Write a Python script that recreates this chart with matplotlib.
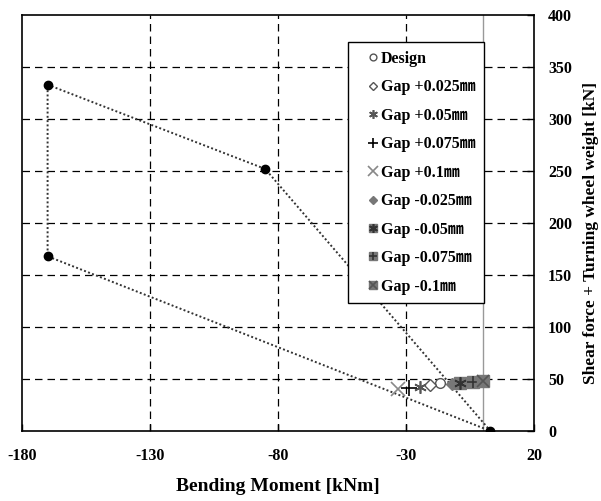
import matplotlib
matplotlib.use("Agg")
import matplotlib.pyplot as plt
from matplotlib.lines import Line2D
from matplotlib.legend_handler import HandlerTuple

plt.rcParams['font.family'] = ['Liberation Serif', 'Noto Sans CJK KR', 'DejaVu Sans']
plt.rcParams['axes.unicode_minus'] = False

# Envelope polygon (closed)
env_x = [-170, -85, 3, -170, -170]
env_y = [333, 252, 0, 168, 333]

labels = ["Design", "Gap +0.025㎜", "Gap +0.05㎜", "Gap +0.075㎜", "Gap +0.1㎜",
          "Gap -0.025㎜", "Gap -0.05㎜", "Gap -0.075㎜", "Gap -0.1㎜"]
pts_x = [-16.7, -20.6, -24.5, -28.7, -33.0, -12.2, -8.9, -3.7, 0.2]
pts_y = [45.8, 44.0, 42.6, 41.0, 40.0, 45.0, 46.5, 47.4, 48.4]

xticks = [-180, -130, -80, -30, 20]
yticks = [0, 50, 100, 150, 200, 250, 300, 350, 400]

fig = plt.figure(figsize=(6.01, 5.01), dpi=100)
ax = fig.add_axes([0.0366, 0.1397, 0.8519, 0.8303])
ax.set_xlim(-180, 20)
ax.set_ylim(0, 400)

for v in xticks[1:-1]:
    ax.axvline(v, color='black', lw=0.9, ls=(0, (6, 4)), zorder=1)
for v in yticks[1:-1]:
    ax.axhline(v, color='black', lw=0.9, ls=(0, (6, 4)), zorder=1)
ax.axvline(0, color='#999999', lw=1.0, zorder=1)

ax.plot(env_x, env_y, ls=(0, (1, 1.2)), color='#333333', lw=1.4, zorder=2)
ax.plot(env_x[:4], env_y[:4], ls='none', marker='o', ms=6, color='black', zorder=3)

g = '#555555'
specs = [
    [dict(marker='o', mfc='white', mec=g, ms=7, mew=1.0)],
    [dict(marker='D', mfc='white', mec=g, ms=6, mew=1.0)],
    [dict(marker=(6, 2, 0), mec=g, ms=9, mew=1.2)],
    [dict(marker='+', mec='black', ms=11, mew=1.2)],
    [dict(marker='x', mec='#888888', ms=10, mew=1.2)],
    [dict(marker='D', mfc='#777777', mec='#777777', ms=6)],
    [dict(marker='s', mfc='#777777', mec='#777777', ms=8), dict(marker=(6, 2, 0), mec='#333333', ms=9, mew=1.2)],
    [dict(marker='s', mfc='#777777', mec='#777777', ms=8), dict(marker='+', mec='#333333', ms=9, mew=1.2)],
    [dict(marker='s', mfc='#777777', mec='#777777', ms=8), dict(marker='x', mec='#555555', ms=9, mew=1.2)],
]

handles = []
for lab, x, y, sp in zip(labels, pts_x, pts_y, specs):
    hs = []
    for s in sp:
        ax.plot([x], [y], ls='none', zorder=4, **s)
        s2 = dict(s)
        s2['ms'] = s2['ms'] * 0.7
        hs.append(Line2D([], [], ls='none', **s2))
    handles.append(tuple(hs))

leg = ax.legend(handles, labels, loc='upper left', bbox_to_anchor=(0.637, 0.935),
                handler_map={tuple: HandlerTuple(ndivide=1, pad=0)},
                frameon=True, fancybox=False, edgecolor='black', framealpha=1,
                prop={'weight': 'bold', 'size': 11.5}, labelspacing=0.78,
                handlelength=2.0, handletextpad=-0.5, borderpad=0.55, borderaxespad=0)
leg.get_frame().set_linewidth(1.0)
leg.set_zorder(5)

ax.set_xticks(xticks)
ax.set_yticks(yticks)
ax.yaxis.tick_right()
ax.yaxis.set_label_position('right')
ax.tick_params(axis='both', direction='in', length=5, labelsize=11.5, width=1)
ax.tick_params(axis='x', pad=12)
ax.tick_params(axis='y', pad=10)
for lab in ax.get_xticklabels() + ax.get_yticklabels():
    lab.set_fontweight('bold')
for sp_ in ax.spines.values():
    sp_.set_linewidth(1.2)

ax.set_xlabel('Bending Moment [kNm]', fontsize=14, fontweight='bold', labelpad=10)
ax.set_ylabel('Shear force + Turning wheel weight [kN]', fontsize=12.5, fontweight='bold',
              labelpad=8)
ax.yaxis.label.set_y(0.476)

fig.savefig('out.png', dpi=100)
